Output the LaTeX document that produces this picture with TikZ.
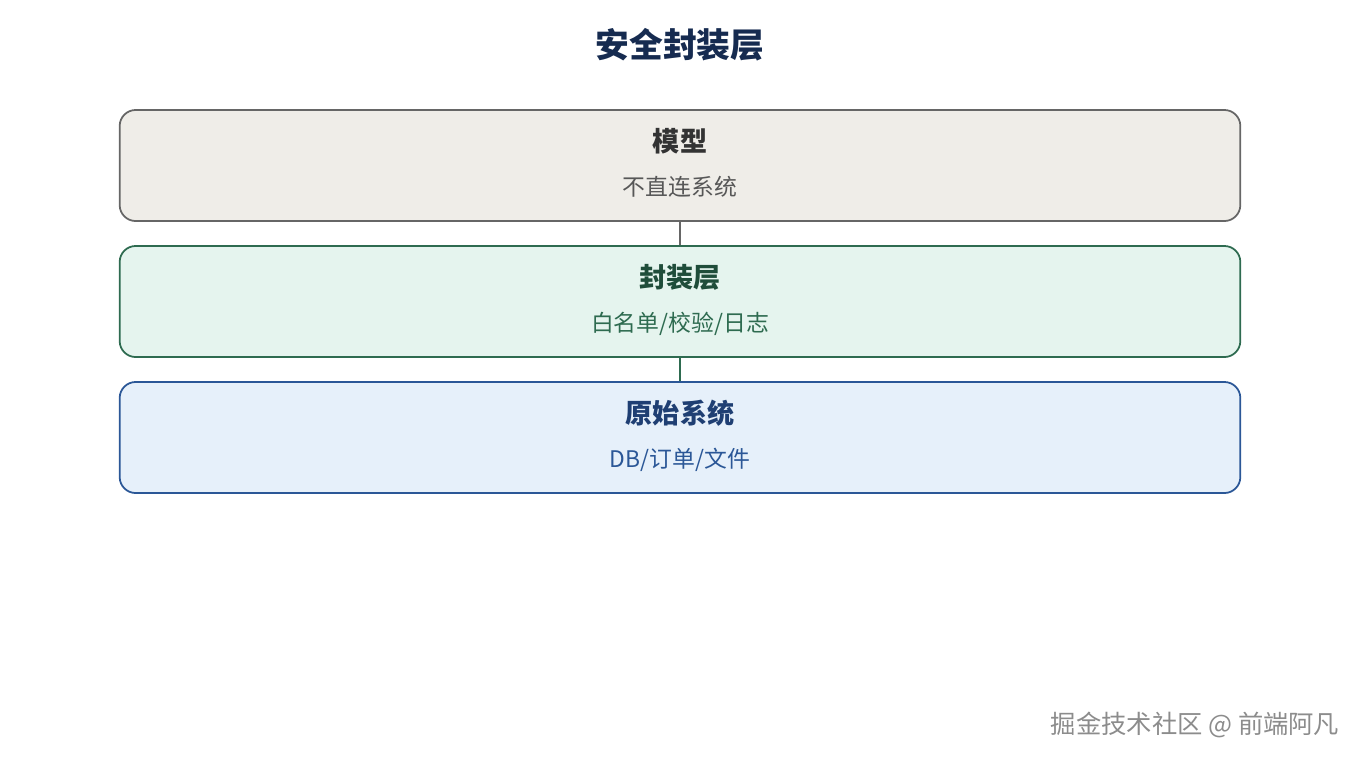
\documentclass[tikz,border=0pt]{standalone}
\usepackage{fontspec}
\setmainfont{Noto Sans CJK SC}
\usepackage{tikz}
\definecolor{modelfill}{RGB}{239, 237, 232}
\definecolor{modeldraw}{RGB}{102, 102, 102}
\definecolor{modeltext}{RGB}{51, 51, 51}
\definecolor{wrapfill}{RGB}{229, 244, 238}
\definecolor{wrapdraw}{RGB}{46, 107, 80}
\definecolor{wraptext}{RGB}{31, 77, 58}
\definecolor{rawfill}{RGB}{230, 240, 250}
\definecolor{rawdraw}{RGB}{43, 87, 151}
\definecolor{rawtext}{RGB}{31, 63, 115}
\definecolor{navy}{RGB}{22, 43, 80}
\tikzset{
  layer/.style = {draw, line width = 0.5pt, rounded corners = 0.16cm,
    minimum width = 11.2cm, minimum height = 1.11cm, align = center,
    text depth = 2.2pt, font = \fontsize{6.5}{13}\selectfont},
}
\newcommand{\layertitle}[1]{{\bfseries\fontsize{7.7}{13}\selectfont #1}}

\begin{document}
\begin{tikzpicture}[x = 0.01cm, y = -0.01cm]
			\useasboundingbox (0,0) rectangle (1360,760);
			\node (title) at (680,45) [text = navy, font = \bfseries\fontsize{9.6}{12}\selectfont] {安全封装层};
			\node (model) at (680,165.5) [layer, fill = modelfill, draw = modeldraw, text = modeldraw!85!black] {\textcolor{modeltext}{\layertitle{模型}}\\[-0.5pt] 不直连系统};
			\node (wrap) at (680,301.5) [layer, fill = wrapfill, draw = wrapdraw, text = wrapdraw] {\textcolor{wraptext}{\layertitle{封装层}}\\[-0.5pt] 白名单/校验/日志};
			\node (raw) at (680,437.5) [layer, fill = rawfill, draw = rawdraw, text = rawdraw] {\textcolor{rawtext}{\layertitle{原始系统}}\\[-0.5pt] DB/订单/文件};
			\draw [modeldraw, line width = 0.5pt] (model) edge (wrap);
			\draw [wrapdraw, line width = 0.5pt] (wrap) edge (raw);
			\node (mark) at (1340,725) [anchor = east, inner sep = 0pt, text = black!45, font = \fontsize{7.2}{9}\selectfont] {掘金技术社区 @ 前端阿凡};
			\end{tikzpicture}
\end{document}
